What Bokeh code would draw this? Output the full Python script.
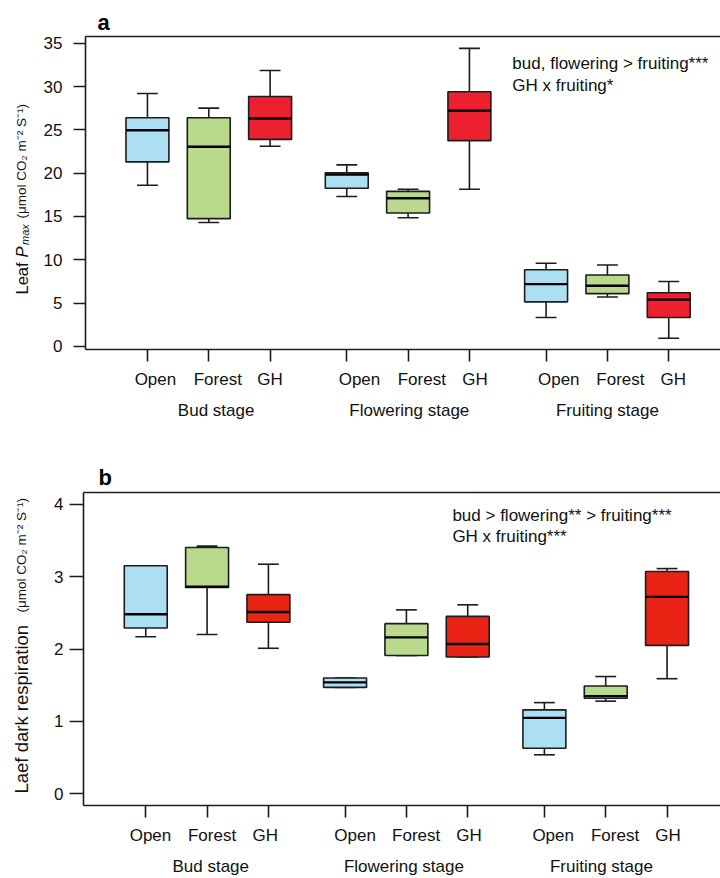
import math

from bokeh.core.properties import value
from bokeh.embed import file_html
from bokeh.layouts import column, row
from bokeh.models import (ColumnDataSource, CustomJSTickFormatter, FixedTicker,
                          Label, LinearAxis, Range1d, Title)
from bokeh.plotting import figure
from bokeh.resources import INLINE

# ---------------------------------------------------------------- data
habitats = ["Open", "Forest", "GH"]
stages = ["Bud stage", "Flowering stage", "Fruiting stage"]
tick_labels = habitats * 3

# box positions: three habitats per stage, a wider gap between stages
positions = [1.0, 2.0, 3.0, 4.25, 5.25, 6.25, 7.5, 8.5, 9.5]

# (a) leaf Pmax, five-number summaries per box
pmax_low = [18.6, 14.3, 23.1, 17.3, 14.85, 18.15, 3.35, 5.7, 0.95]
pmax_q1 = [21.3, 14.75, 23.9, 18.25, 15.4, 23.75, 5.15, 6.1, 3.35]
pmax_median = [24.95, 23.05, 26.3, 19.85, 17.1, 27.2, 7.2, 7.0, 5.4]
pmax_q3 = [26.4, 26.4, 28.85, 20.05, 17.9, 29.4, 8.85, 8.25, 6.2]
pmax_high = [29.2, 27.5, 31.85, 20.95, 18.15, 34.4, 9.6, 9.4, 7.5]

# (b) leaf dark respiration
rd_low = [2.17, 2.20, 2.01, 1.47, 1.91, 1.89, 0.54, 1.28, 1.59]
rd_q1 = [2.29, 2.85, 2.37, 1.47, 1.91, 1.89, 0.63, 1.32, 2.05]
rd_median = [2.48, 2.86, 2.51, 1.54, 2.16, 2.07, 1.05, 1.35, 2.72]
rd_q3 = [3.15, 3.40, 2.75, 1.60, 2.35, 2.45, 1.16, 1.49, 3.07]
rd_high = [3.15, 3.42, 3.17, 1.60, 2.54, 2.61, 1.26, 1.62, 3.11]

pmax_ticks = [0, 5, 10, 15, 20, 25, 30, 35]
rd_ticks = [0, 1, 2, 3, 4]

pmax_notes = ["bud, flowering > fruiting***", "GH x fruiting*"]
rd_notes = ["bud > flowering** > fruiting***", "GH x fruiting***"]

units = "(\u03bcmol CO\u2082 m\u207b\u00b2 S\u207b\u00b9)"

# ---------------------------------------------------------------- style
FONT = "Liberation Sans"
INK = "#1c1c1c"
TXT = "#111111"
BLUE = "#addff2"
GREEN = "#b9d98c"
RED_A = "#ed2030"
RED_B = "#ea2414"
PX_PER_UNIT = 61.33   # horizontal scale of both panels
STRIP = 40            # width of the strip holding the rotated y title
LW = 1.6


def no_minor(ax):
    ax.minor_tick_in = 0
    ax.minor_tick_out = 0


def title_strip(height, top, bottom, parts):
    """Narrow figure carrying the rotated, mixed-style y-axis title.

    Its frame shares the vertical extent of the neighbouring panel, and the
    y range is expressed in pixels counted from the bottom of the strip.
    """
    s = figure(width=STRIP, height=height, output_backend="svg",
               toolbar_location=None, x_axis_type=None, y_axis_type=None,
               x_range=Range1d(0, STRIP), y_range=Range1d(bottom, height - top),
               min_border_left=0, min_border_right=0,
               min_border_top=top, min_border_bottom=bottom)
    s.outline_line_color = None
    for text, x, y, size, style in parts:
        s.text(x=[x], y=[y], text=[text], angle=math.pi / 2,
               text_font=value(FONT), text_font_size=value(size),
               text_font_style=style, text_color=TXT,
               text_align="left", text_baseline="alphabetic")
    return s


def build_panel(height, left, top, bottom, x_start, x_end, y_start, y_end,
                yticks, ytick_out, ystandoff, low, q1, med, q3, high, red,
                label_shift_px, group_x, notes, note_x, note_y, note_dy,
                letter, letter_offset, letter_standoff):
    p = figure(width=720 - STRIP, height=height, output_backend="svg",
               toolbar_location=None, x_axis_type=None, y_axis_type=None,
               x_range=Range1d(x_start, x_end), y_range=Range1d(y_start, y_end),
               min_border_left=left - STRIP, min_border_right=0,
               min_border_top=top, min_border_bottom=bottom)
    p.outline_line_color = None
    p.background_fill_color = "white"
    p.border_fill_color = "white"

    fills = [BLUE, GREEN, red] * 3
    src = ColumnDataSource(dict(
        x=positions, low=low, q1=q1, med=med, q3=q3, high=high, fill=fills,
        xl=[x - 0.35 for x in positions], xr=[x + 0.35 for x in positions],
        cl=[x - 0.17 for x in positions], cr=[x + 0.17 for x in positions],
    ))

    # whiskers and caps
    wk = dict(line_color=INK, line_width=LW)
    p.segment(x0="x", y0="q3", x1="x", y1="high", source=src, **wk)
    p.segment(x0="x", y0="q1", x1="x", y1="low", source=src, **wk)
    p.segment(x0="cl", y0="high", x1="cr", y1="high", source=src, **wk)
    p.segment(x0="cl", y0="low", x1="cr", y1="low", source=src, **wk)
    # boxes and medians
    p.vbar(x="x", width=0.7, bottom="q1", top="q3", fill_color="fill",
           line_color=INK, line_width=LW, source=src)
    p.segment(x0="xl", y0="med", x1="xr", y1="med", line_color="black",
              line_width=2.4, source=src)

    # left axis
    yax = LinearAxis(ticker=FixedTicker(ticks=yticks))
    yax.major_tick_out = ytick_out
    yax.major_tick_in = 0
    no_minor(yax)
    yax.axis_line_color = INK
    yax.axis_line_width = LW
    yax.major_tick_line_color = INK
    yax.major_tick_line_width = LW
    yax.major_label_standoff = ystandoff
    yax.major_label_text_font = FONT
    yax.major_label_text_font_size = "17px"
    yax.major_label_text_color = TXT
    p.add_layout(yax, "left")

    # top border line
    tax = LinearAxis(ticker=FixedTicker(ticks=[]))
    tax.major_tick_out = 0
    tax.major_tick_in = 0
    no_minor(tax)
    tax.major_label_text_font_size = "0px"
    tax.axis_line_color = INK
    tax.axis_line_width = LW
    p.add_layout(tax, "above")

    # bottom axis: tick marks only
    bax = LinearAxis(ticker=FixedTicker(ticks=positions),
                     formatter=CustomJSTickFormatter(code="return ''"))
    bax.major_tick_out = 12
    bax.major_tick_in = 0
    no_minor(bax)
    bax.axis_line_color = INK
    bax.axis_line_width = LW
    bax.major_tick_line_color = INK
    bax.major_tick_line_width = LW
    bax.major_label_text_font_size = "0px"
    bax.major_label_standoff = 0
    p.add_layout(bax, "below")

    # habitat names
    label_x = [x + s / PX_PER_UNIT for x, s in zip(positions, label_shift_px)]
    lax = LinearAxis(ticker=FixedTicker(ticks=label_x),
                     formatter=CustomJSTickFormatter(
                         args=dict(names=tick_labels), code="return names[index]"))
    lax.major_tick_out = 0
    lax.major_tick_in = 0
    no_minor(lax)
    lax.axis_line_color = None
    lax.major_label_standoff = 8
    lax.major_label_text_font = FONT
    lax.major_label_text_font_size = "17px"
    lax.major_label_text_color = TXT
    p.add_layout(lax, "below")

    # stage names
    gax = LinearAxis(ticker=FixedTicker(ticks=group_x),
                     formatter=CustomJSTickFormatter(
                         args=dict(names=stages), code="return names[index]"))
    gax.major_tick_out = 0
    gax.major_tick_in = 0
    no_minor(gax)
    gax.axis_line_color = None
    gax.major_label_standoff = 9
    gax.major_label_text_font = FONT
    gax.major_label_text_font_size = "17px"
    gax.major_label_text_color = TXT
    p.add_layout(gax, "below")

    # significance notes
    for i, line in enumerate(notes):
        p.add_layout(Label(x=note_x, y=note_y - i * note_dy, text=line,
                           text_font=FONT, text_font_size="17px",
                           text_color=TXT, text_align="left",
                           text_baseline="middle"))

    # panel letter
    p.title = Title(text=letter, align="left", offset=letter_offset,
                    standoff=letter_standoff, text_font=FONT,
                    text_font_size="22px", text_font_style="bold",
                    text_color="black")
    return p


pa = build_panel(
    height=440, left=85, top=36, bottom=91,
    x_start=-0.01, x_end=-0.01 + 635 / PX_PER_UNIT,
    y_start=-0.35, y_end=35.77,
    yticks=pmax_ticks, ytick_out=12, ystandoff=11,
    low=pmax_low, q1=pmax_q1, med=pmax_median, q3=pmax_q3, high=pmax_high,
    red=RED_A,
    label_shift_px=[8, 9, 0, 12.7, 13.7, 5.5, 12.7, 13, 4.5],
    group_x=[2.12, 5.27, 8.5],
    notes=pmax_notes, note_x=6.95, note_y=32.6, note_dy=2.5,
    letter="a", letter_offset=12, letter_standoff=4,
)
sa = title_strip(440, 36, 91,
                 [("Leaf", 21, 146, "16.5px", "normal"),
                  ("P", 21, 183, "16.5px", "italic"),
                  ("max", 24.5, 195.5, "11px", "italic"),
                  (units, 21, 222, "13.5px", "normal")])

pb = build_panel(
    height=438, left=83, top=52, bottom=73,
    x_start=-0.015, x_end=-0.015 + 637 / PX_PER_UNIT,
    y_start=-0.16, y_end=4.16,
    yticks=rd_ticks, ytick_out=14, ystandoff=6,
    low=rd_low, q1=rd_q1, med=rd_median, q3=rd_q3, high=rd_high,
    red=RED_B,
    label_shift_px=[4.7, 5, -3.2, 10, 9.8, 1.2, 8.8, 9.3, 1],
    group_x=[2.06, 5.21, 8.43],
    notes=rd_notes, note_x=6.0, note_y=3.84, note_dy=0.29,
    letter="b", letter_offset=15, letter_standoff=5,
)
sb = title_strip(438, 52, 73,
                 [("Laef dark respiration", 21, 85, "18.5px", "normal"),
                  (units, 21, 266, "13.5px", "normal")])

layout = column(row(sa, pa, spacing=0), row(sb, pb, spacing=0), spacing=0)
open("out.html", "w").write(file_html(layout, INLINE))
